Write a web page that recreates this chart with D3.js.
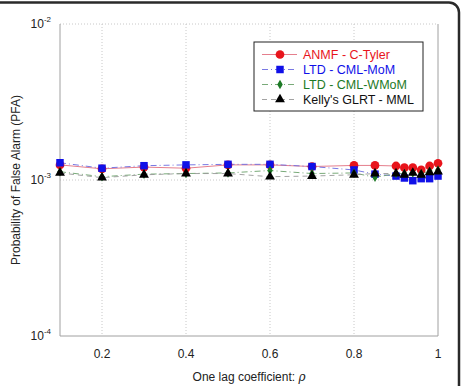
<!DOCTYPE html>
<html>
<head>
<meta charset="utf-8">
<script src="https://cdn.jsdelivr.net/npm/d3@7"></script>
<style>
  body { margin: 0; background: #fff; }
  svg { display: block; font-family: Arial, "Liberation Sans", sans-serif; }
</style>
</head>
<body>
<svg id="chart" width="461" height="386"></svg>
<script>
// one lag coefficient values
const rho = [0.1, 0.2, 0.3, 0.4, 0.5, 0.6, 0.7, 0.8, 0.85, 0.9, 0.92, 0.94, 0.96, 0.98, 1.0];

// PFA per detector
const anmf  = [1.25e-3, 1.18e-3, 1.21e-3, 1.19e-3, 1.25e-3, 1.25e-3, 1.22e-3, 1.24e-3, 1.24e-3, 1.23e-3, 1.20e-3, 1.20e-3, 1.16e-3, 1.23e-3, 1.28e-3];
const mom   = [1.29e-3, 1.19e-3, 1.235e-3, 1.25e-3, 1.26e-3, 1.26e-3, 1.22e-3, 1.16e-3, 1.09e-3, 1.06e-3, 1.03e-3, 0.99e-3, 1.02e-3, 1.02e-3, 1.06e-3];
const wmom  = [1.13e-3, 1.05e-3, 1.09e-3, 1.10e-3, 1.11e-3, 1.15e-3, 1.10e-3, 1.11e-3, 1.04e-3, 1.10e-3, 1.10e-3, 1.11e-3, 1.10e-3, 1.14e-3, 1.16e-3];
const kelly = [1.11e-3, 1.035e-3, 1.08e-3, 1.10e-3, 1.10e-3, 1.05e-3, 1.06e-3, 1.08e-3, 1.10e-3, 1.10e-3, 1.08e-3, 1.11e-3, 1.08e-3, 1.12e-3, 1.13e-3];

const seriesNames = ["ANMF - C-Tyler", "LTD - CML-MoM", "LTD - CML-WMoM", "Kelly's GLRT - MML"];
const xTicks = [0.2, 0.4, 0.6, 0.8, 1];
const yTicks = [1e-4, 1e-3, 1e-2];

const series = [
  { name: seriesNames[0], values: anmf,  color: "#e8141b", line: "#e27080", dash: null,      symbol: d3.symbolCircle,   size: 60 },
  { name: seriesNames[1], values: mom,   color: "#1010e8", line: "#6a6ae0", dash: "6,3,1,3", symbol: d3.symbolSquare,   size: 56 },
  { name: seriesNames[2], values: wmom,  color: "#1d7a26", line: "#6aa06a", dash: "6,3,1,3", symbol: d3.symbolDiamond,  size: 26 },
  { name: seriesNames[3], values: kelly, color: "#000000", line: "#999999", dash: "5,4",     symbol: d3.symbolTriangle, size: 42 }
];

const svg = d3.select("#chart");
const mLeft = 60, mRight = 438, mTop = 24, mBottom = 336;

const x = d3.scaleLinear().domain([0.1, 1]).range([mLeft, mRight]);
const y = d3.scaleLog().domain([1e-4, 1e-2]).range([mBottom, mTop]);

// outer frame (cropped rounded box)
svg.append("path")
  .attr("d", "M0,2.5 H449 A10,10 0 0 1 459,12.5 V386")
  .attr("fill", "none")
  .attr("stroke", "#2a2a2a")
  .attr("stroke-width", 2.5);

// grid
svg.append("g").selectAll("line").data(xTicks.filter(d => d < 1)).join("line")
  .attr("x1", d => x(d)).attr("x2", d => x(d))
  .attr("y1", mTop).attr("y2", mBottom)
  .attr("stroke", "#c8c8c8").attr("stroke-dasharray", "1,2");
svg.append("g").selectAll("line").data([1e-3]).join("line")
  .attr("x1", mLeft).attr("x2", mRight)
  .attr("y1", d => y(d)).attr("y2", d => y(d))
  .attr("stroke", "#c8c8c8").attr("stroke-dasharray", "1,2");
svg.append("line")
  .attr("x1", mLeft).attr("x2", mRight).attr("y1", mTop).attr("y2", mTop)
  .attr("stroke", "#c8c8c8").attr("stroke-dasharray", "1,2");

// plot box
svg.append("path")
  .attr("d", `M${mLeft},${mTop} V${mBottom} H${mRight} V${mTop}`)
  .attr("fill", "none").attr("stroke", "#a0a0a0");

// x tick labels
svg.append("g").selectAll("text").data(xTicks).join("text")
  .attr("x", d => x(d)).attr("y", 358)
  .attr("text-anchor", "middle").attr("font-size", 12).attr("fill", "#222")
  .text(d => d3.format("")(d));

// y tick labels: 10^n
const yl = svg.append("g").selectAll("text").data(yTicks).join("text")
  .attr("x", 51).attr("y", d => y(d) + 4)
  .attr("text-anchor", "end").attr("font-size", 12).attr("fill", "#222");
yl.append("tspan").text("10");
yl.append("tspan").attr("dy", -6).attr("font-size", 8)
  .text(d => "-" + Math.round(-Math.log10(d)));

// axis titles
svg.append("text")
  .attr("x", (mLeft + mRight) / 2).attr("y", 381)
  .attr("text-anchor", "middle").attr("font-size", 12).attr("fill", "#222")
  .text("One lag coefficient: ")
  .append("tspan").attr("font-family", "'DejaVu Serif', serif").attr("font-style", "italic").text("ρ");

svg.append("text")
  .attr("transform", `translate(20,${(mTop + mBottom) / 2}) rotate(-90)`)
  .attr("text-anchor", "middle").attr("font-size", 12).attr("fill", "#222")
  .text("Probability of False Alarm (PFA)");

// lines and markers
const line = d3.line().x(d => x(d[0])).y(d => y(d[1]));
series.forEach(s => {
  const pts = rho.map((r, i) => [r, s.values[i]]);
  svg.append("path").datum(pts)
    .attr("d", line)
    .attr("fill", "none").attr("stroke", s.line).attr("stroke-width", 0.9)
    .attr("stroke-dasharray", s.dash);
});
series.forEach(s => {
  const pts = rho.map((r, i) => [r, s.values[i]]);
  svg.append("g").selectAll("path").data(pts).join("path")
    .attr("transform", d => `translate(${x(d[0])},${y(d[1])})`)
    .attr("d", d3.symbol(s.symbol, s.size))
    .attr("fill", s.color);
});

// legend
const lg = svg.append("g");
lg.append("rect")
  .attr("x", 254).attr("y", 42).attr("width", 169).attr("height", 69)
  .attr("fill", "#fff").attr("stroke", "#222").attr("stroke-width", 1);
series.forEach((s, i) => {
  const ly = 54.5 + i * 15;
  lg.append("line")
    .attr("x1", 262).attr("x2", 297).attr("y1", ly).attr("y2", ly)
    .attr("stroke", s.line).attr("stroke-width", 0.9).attr("stroke-dasharray", s.dash);
  lg.append("path")
    .attr("transform", `translate(280,${ly})`)
    .attr("d", d3.symbol(s.symbol, s.size))
    .attr("fill", s.color);
  lg.append("text")
    .attr("x", 303).attr("y", ly + 4.5)
    .attr("font-size", 12.5).attr("fill", s.color === "#000000" ? "#111" : s.color)
    .text(s.name);
});
</script>
</body>
</html>
